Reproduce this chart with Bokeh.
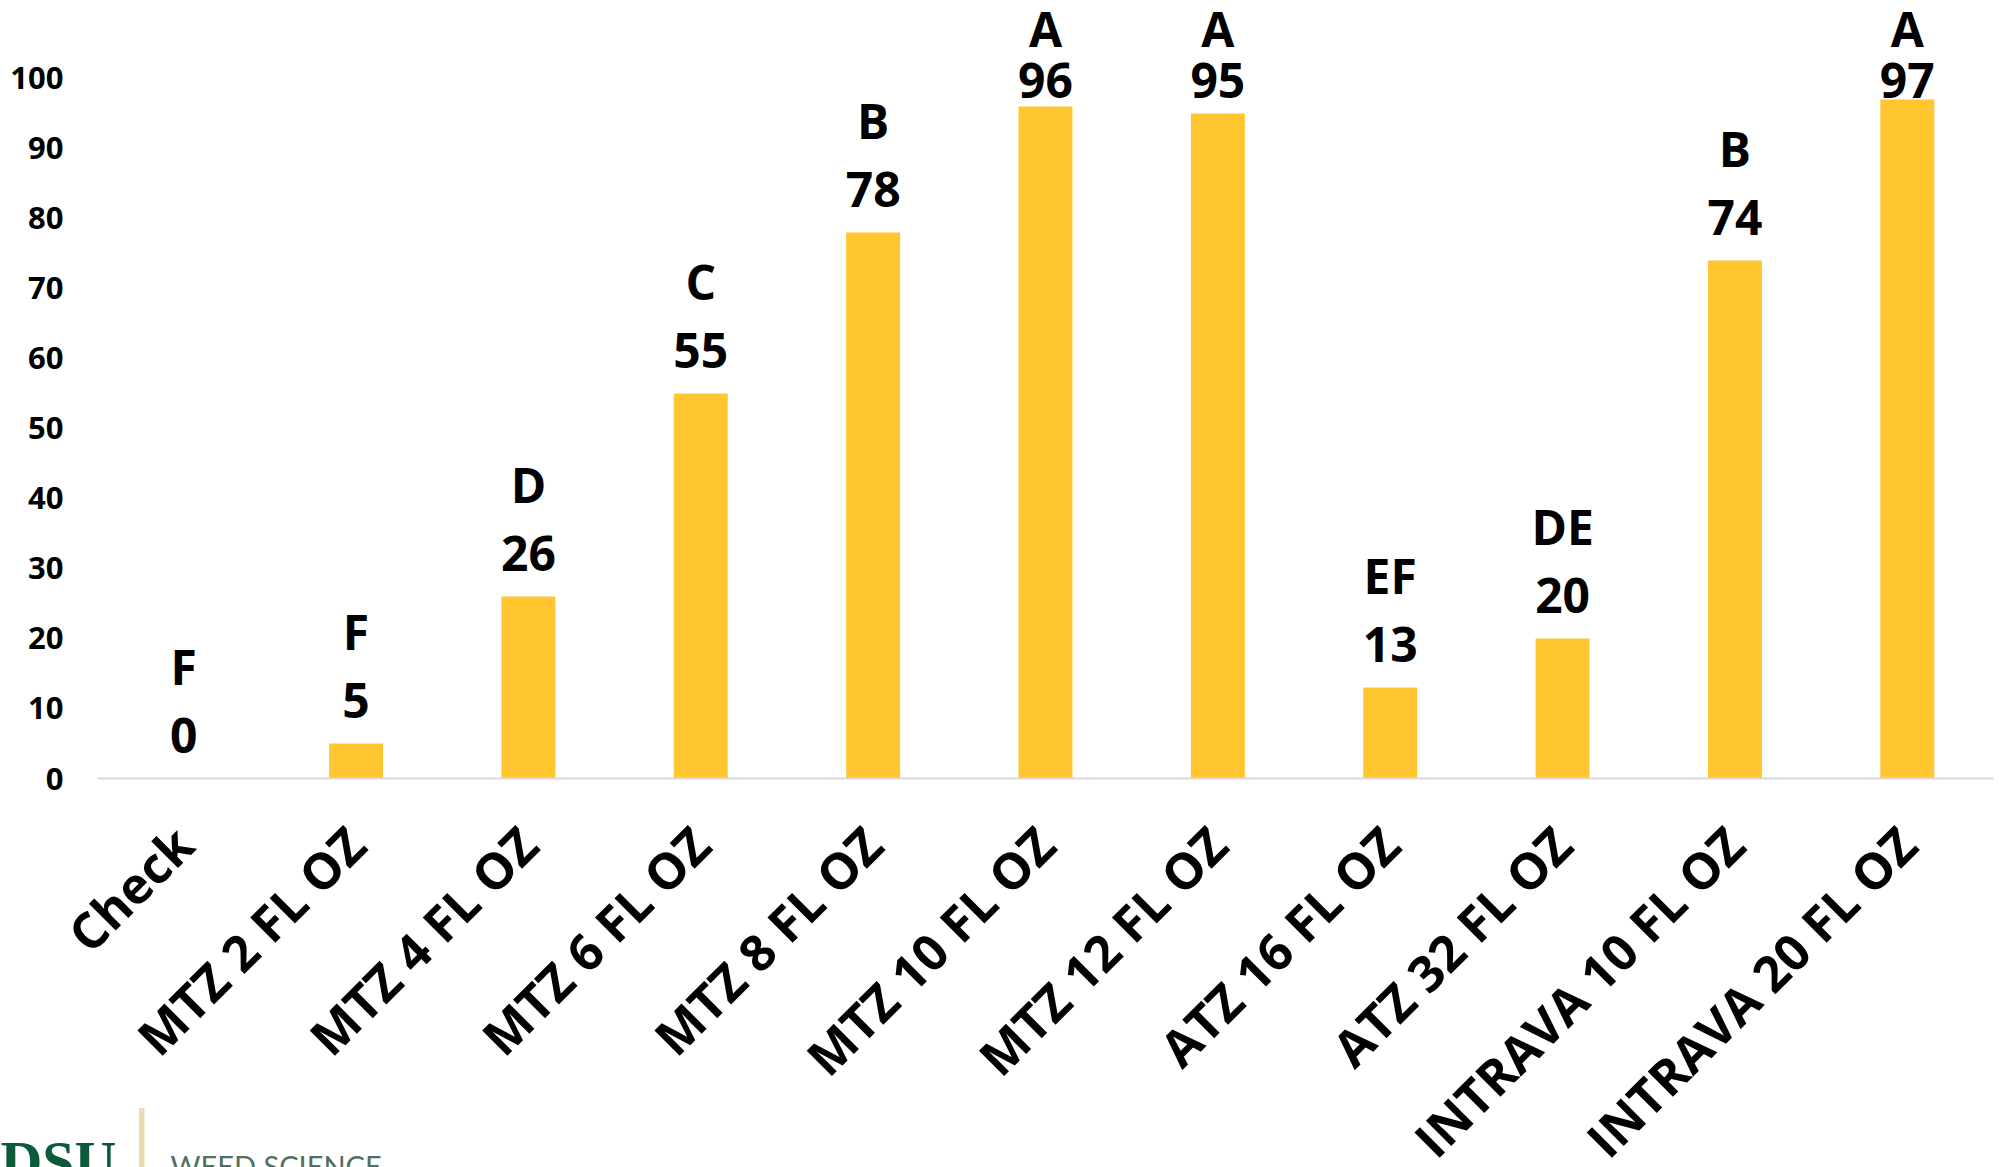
from bokeh.plotting import figure
from bokeh.models import ColumnDataSource, FixedTicker, Label, FactorRange
from bokeh.core.properties import value
from bokeh.embed import file_html
from bokeh.resources import INLINE
import math

# ---- data ----
treatments = ["Check", "MTZ 2 FL OZ", "MTZ 4 FL OZ", "MTZ 6 FL OZ", "MTZ 8 FL OZ",
              "MTZ 10 FL OZ", "MTZ 12 FL OZ", "ATZ 16 FL OZ", "ATZ 32 FL OZ",
              "INTRAVA 10 FL OZ", "INTRAVA 20 FL OZ"]
control = [0, 5, 26, 55, 78, 96, 95, 13, 20, 74, 97]
letters = ["F", "F", "D", "C", "B", "A", "A", "EF", "DE", "B", "A"]
y_ticks = [0, 10, 20, 30, 40, 50, 60, 70, 80, 90, 100]

FONT = "Open Sans"
BAR = "#FFC630"

num_y = [min(v + 6.2, 99.7) for v in control]
let_y = [min(v + 16.0, 107.1) for v in control]

src = ColumnDataSource(dict(x=treatments, top=control,
                            num=[str(v) for v in control], num_y=num_y,
                            let=letters, let_y=let_y))

PAD = 97 / (1896 / 11)  # category units of white space left of the first bar slot
xr = FactorRange(factors=treatments, range_padding=PAD, range_padding_units="absolute")

p = figure(x_range=xr, y_range=(-55.57, 111.14), width=2090, height=1167,
           output_backend="svg", toolbar_location=None,
           min_border_left=0, min_border_right=0, min_border_top=0,
           min_border_bottom=0)
p.outline_line_color = None
p.xgrid.grid_line_color = None
p.ygrid.grid_line_color = None
p.background_fill_color = "white"
p.border_fill_color = "white"

p.vbar(x="x", top="top", width=0.313, bottom=0, source=src,
       fill_color=BAR, line_color=None)

p.text(x="x", y="num_y", text="num", source=src, text_align="center",
       text_baseline="middle", text_font=value(FONT), text_font_style="bold",
       text_font_size="48px", text_color="black")
p.text(x="x", y="let_y", text="let", source=src, text_align="center",
       text_baseline="middle", text_font=value(FONT), text_font_style="bold",
       text_font_size="48px", text_color="black")

# y axis (drawn at the left edge of the category area)
p.yaxis.fixed_location = 0
p.yaxis.ticker = FixedTicker(ticks=y_ticks)
p.yaxis.axis_line_color = None
p.yaxis.major_tick_line_color = None
p.yaxis.minor_tick_line_color = None
p.yaxis.major_tick_out = 0
p.yaxis.major_label_standoff = 34
p.yaxis.major_label_text_font = FONT
p.yaxis.major_label_text_font_style = "bold"
p.yaxis.major_label_text_font_size = "31px"
p.yaxis.major_label_text_color = "black"

# x axis (at value 0)
p.xaxis.fixed_location = 0
p.xaxis.bounds = (0, len(treatments))
p.xaxis.axis_line_color = "#D9D9D9"
p.xaxis.axis_line_width = 2
p.xaxis.major_tick_line_color = None
p.xaxis.minor_tick_line_color = None
p.xaxis.major_tick_out = 0
p.xaxis.major_label_orientation = math.pi / 4
p.xaxis.major_label_standoff = 57
p.xaxis.major_label_text_font = FONT
p.xaxis.major_label_text_font_style = "bold"
p.xaxis.major_label_text_font_size = "50px"
p.xaxis.major_label_text_color = "black"

# logo (partially cut at the bottom-left)
p.add_layout(Label(x=-42, y=1128, x_units="canvas", y_units="canvas",
                   text="NDSU", text_font="Liberation Serif", text_font_style="bold",
                   text_font_size="58px", text_color="#0B5A3A", text_baseline="top"))
p.add_layout(Label(x=120, y=1108, x_units="canvas", y_units="canvas",
                   text="│", text_font="DejaVu Sans", text_font_size="70px",
                   text_color="#EADBB0", text_baseline="top"))
p.add_layout(Label(x=170, y=1147, x_units="canvas", y_units="canvas",
                   text="WEED SCIENCE", text_font="Lato", text_font_style="normal",
                   text_font_size="29px", text_color="#52705F", text_baseline="top"))

html = file_html(p, INLINE)
html = html.replace("<head>", "<head><style>html, body { overflow: hidden; }</style>", 1)
open("out.html", "w").write(html)
